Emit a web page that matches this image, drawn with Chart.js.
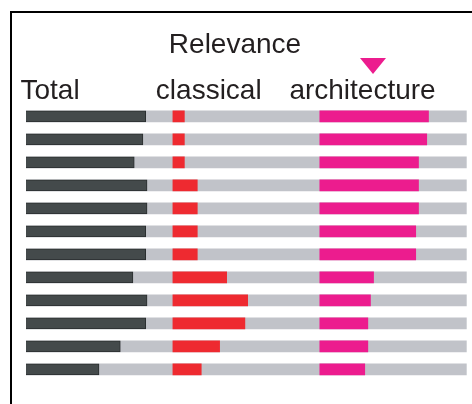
<!DOCTYPE html>
<html lang="en">
<head>
    <meta charset="UTF-8">
    <title>Relevance</title>
    <script src="https://cdn.jsdelivr.net/npm/chart.js"></script>
    <style>
        body {
            margin: 0;
            padding: 0;
            background: white;
            overflow: hidden;
        }
        .frame {
            position: absolute;
            left: 10px;
            top: 11px;
            width: 600px;
            height: 600px;
            border-left: 2px solid black;
            border-top: 2px solid black;
        }
        .wrap {
            position: absolute;
            left: 0;
            top: 0;
            width: 472px;
            height: 404px;
        }
    </style>
</head>
<body>

    <div class="frame"></div>
    <div class="wrap"><canvas id="grafico"></canvas></div>

    <script>
        // one row per item, top to bottom
        const rows = ["1", "2", "3", "4", "5", "6", "7", "8", "9", "10", "11", "12"];
        const totalVals = [81.5, 79.6, 73.7, 82.4, 82.4, 81.5, 81.5, 72.8, 82.4, 81.5, 64.2, 49.7];
        const classicalVals = [7.8, 7.8, 7.8, 16.6, 16.6, 16.6, 16.6, 36.6, 50.9, 49.0, 31.8, 19.3];
        const architectureVals = [74.0, 72.8, 67.2, 67.2, 67.2, 65.3, 65.3, 36.6, 34.5, 32.7, 32.7, 30.6];

        // column headers and where they sit on the 0-300 axis
        const headerLabels = ["Total", "classical", "architecture"];
        const headerPos = [16.4, 124.4, 229.1];
        const columnStart = [0, 100, 200];
        const sortMarker = 236.2; // triangle above the sorted column

        const fontFam = '"Liberation Sans", Arial, sans-serif';

        const extras = {
            id: 'extras',
            afterDraw(chart) {
                const ctx = chart.ctx;
                const x = chart.scales.x;
                ctx.save();
                ctx.fillStyle = '#231f20';
                ctx.font = '28px ' + fontFam;
                ctx.textAlign = 'center';
                ctx.textBaseline = 'alphabetic';
                ctx.fillText('Relevance', 235, 53);

                const cx = x.getPixelForValue(sortMarker);
                ctx.fillStyle = '#ec1c8e';
                ctx.beginPath();
                ctx.moveTo(cx - 13, 58);
                ctx.lineTo(cx + 13, 58);
                ctx.lineTo(cx, 74);
                ctx.closePath();
                ctx.fill();
                ctx.restore();
            }
        };

        const ctx = document.getElementById('grafico').getContext('2d');
        new Chart(ctx, {
            type: 'bar',
            data: {
                labels: rows,
                datasets: [
                    {
                        data: architectureVals.map(v => [columnStart[2], columnStart[2] + v]),
                        backgroundColor: '#ec1c8e'
                    },
                    {
                        data: classicalVals.map(v => [columnStart[1], columnStart[1] + v]),
                        backgroundColor: '#ee2a30'
                    },
                    {
                        data: totalVals.map(v => [columnStart[0], columnStart[0] + v]),
                        backgroundColor: '#444a4b',
                        borderColor: '#2a2e2f',
                        borderWidth: 1
                    },
                    {
                        data: rows.map(() => [0, 300]),
                        backgroundColor: '#c1c3c9'
                    }
                ]
            },
            options: {
                indexAxis: 'y',
                responsive: true,
                maintainAspectRatio: false,
                animation: false,
                devicePixelRatio: 1,
                grouped: false,
                barThickness: 11,
                layout: {
                    padding: { left: 26, right: 5.3, top: 77.2, bottom: 23.2 }
                },
                plugins: {
                    legend: { display: false },
                    tooltip: { enabled: false },
                    title: { display: false }
                },
                scales: {
                    x: {
                        display: false,
                        min: 0,
                        max: 300
                    },
                    xTop: {
                        position: 'top',
                        min: 0,
                        max: 300,
                        grid: { display: false, drawTicks: false },
                        border: { display: false },
                        afterBuildTicks(axis) {
                            axis.ticks = headerPos.map(v => ({ value: v }));
                        },
                        ticks: {
                            autoSkip: false,
                            maxRotation: 0,
                            padding: -3,
                            color: '#231f20',
                            font: { family: fontFam, size: 28 },
                            callback: (value, index) => headerLabels[index]
                        }
                    },
                    y: {
                        display: false
                    }
                }
            },
            plugins: [extras]
        });
    </script>

</body>
</html>
